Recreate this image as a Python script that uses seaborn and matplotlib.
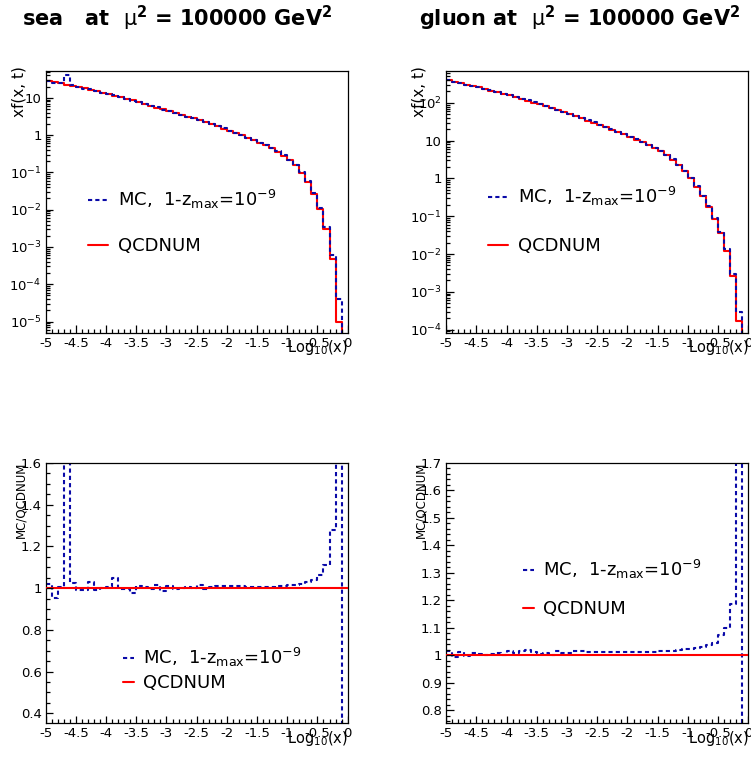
import numpy as np
import pandas as pd
import matplotlib
matplotlib.use("Agg")
import matplotlib.pyplot as plt
import matplotlib.ticker as mticker
from matplotlib.lines import Line2D
from matplotlib.collections import LineCollection
import seaborn as sns

# binning in log10(x): 50 bins between -5 and 0
n_bins = 50
x_lo, x_hi = -5.0, 0.0

# xf(x,t) from QCDNUM, per bin
sea_qcdnum = [28.2, 26.2, 24.3, 22.6, 21.0, 19.5, 17.9, 16.4, 15.0, 13.7,
              12.6, 11.4, 10.4, 9.4, 8.55, 7.76, 6.92, 6.17, 5.50, 4.90,
              4.37, 3.91, 3.50, 3.13, 2.81, 2.51, 2.21, 1.94, 1.71, 1.50,
              1.32, 1.14, 0.98, 0.85, 0.73, 0.63, 0.537, 0.447, 0.363, 0.282,
              0.214, 0.155, 0.098, 0.0556, 0.0269, 0.0107, 0.00309, 4.7e-4, 1.0e-5, 0.0]
gluon_qcdnum = [398, 365, 334, 306, 281, 257, 233, 212, 192, 175,
                158, 142, 127, 114, 102, 91.2, 80.9, 71.8, 63.7, 56.5,
                50.1, 44.1, 38.7, 34.0, 29.9, 26.3, 22.7, 19.6, 16.9, 14.6,
                12.6, 10.7, 9.12, 7.67, 6.38, 5.25, 4.17, 3.16, 2.29, 1.55,
                1.00, 0.603, 0.339, 0.178, 0.0851, 0.0359, 0.0123, 0.00257, 1.7e-4, 0.0]

# MC / QCDNUM ratio per bin
sea_ratio = [1.018, 0.952, 1.005, 1.80, 1.024, 0.99, 0.99, 1.027, 0.99, 1.0,
             1.005, 1.05, 0.997, 0.994, 0.978, 1.008, 1.005, 0.995, 1.013, 0.984,
             1.011, 0.997, 1.002, 1.005, 1.002, 1.014, 0.995, 1.005, 1.01, 1.008,
             1.008, 1.01, 1.008, 1.006, 1.007, 1.005, 1.005, 1.006, 1.008, 1.011,
             1.015, 1.016, 1.02, 1.027, 1.04, 1.065, 1.113, 1.28, 4.1, 0.0]
gluon_ratio = [1.015, 0.994, 1.01, 0.998, 1.008, 1.005, 1.002, 1.006, 1.008, 1.0,
               1.015, 1.008, 1.015, 1.019, 1.01, 1.006, 1.007, 1.002, 1.017, 1.007,
               1.008, 1.016, 1.014, 1.011, 1.012, 1.01, 1.011, 1.012, 1.01, 1.013,
               1.011, 1.012, 1.013, 1.012, 1.012, 1.014, 1.015, 1.017, 1.019, 1.022,
               1.022, 1.027, 1.03, 1.036, 1.044, 1.072, 1.10, 1.185, 1.76, 0.0]
ref_level = 1.0

titles = ["sea   at  $\\mathrm{\\mu}^{\\mathbf{2}}$ = 100000 GeV$^{\\mathbf{2}}$",
          "gluon at  $\\mathrm{\\mu}^{\\mathbf{2}}$ = 100000 GeV$^{\\mathbf{2}}$"]
mc_label = "MC,  1-z$_{\\rm max}$=10$^{-9}$"
qcd_label = "QCDNUM"

edges = np.linspace(x_lo, x_hi, n_bins + 1)
centers = 0.5 * (edges[:-1] + edges[1:])

sns.set_theme(style="white", rc={
    "axes.linewidth": 0.9, "axes.edgecolor": "black",
    "axes.unicode_minus": False,
    "text.color": "black", "axes.labelcolor": "black",
    "xtick.color": "black", "ytick.color": "black",
})
plt.rcParams["font.family"] = ["DejaVu Sans"]
plt.rcParams["mathtext.fontset"] = "dejavusans"

red = "#ff0000"
blue = "#0a0aa8"
dash = (0, (2, 1.5))

fig = plt.figure(figsize=(7.51, 7.57), dpi=100)
ax_tl = fig.add_axes([0.0609, 0.560, 0.402, 0.346])
ax_tr = fig.add_axes([0.594, 0.560, 0.4025, 0.346])
ax_bl = fig.add_axes([0.0609, 0.0445, 0.402, 0.344])
ax_br = fig.add_axes([0.594, 0.0445, 0.4025, 0.344])

handles = [Line2D([], [], color=blue, lw=1.5, ls=dash),
           Line2D([], [], color=red, lw=1.5)]


def log_label(v, pos):
    e = int(round(np.log10(v)))
    if e == 0:
        return "1"
    if e == 1:
        return "10"
    return "$\\mathregular{10^{%d}}$" % e


def inner_ticks(ax):
    # ROOT-like inward tick marks along the bottom and left axes,
    # placed at the axis locators' own positions
    x0, x1 = ax.get_xlim()
    y0, y1 = sorted(ax.get_ylim())
    for locs, size in ((ax.xaxis.get_majorticklocs(), 0.029),
                       (ax.xaxis.get_minorticklocs(), 0.015)):
        segs = [[(v, 0), (v, size)] for v in locs if x0 <= v <= x1]
        ax.add_collection(LineCollection(segs, transform=ax.get_xaxis_transform(),
                                         colors="black", linewidths=0.9, zorder=6))
    for locs, size in ((ax.yaxis.get_majorticklocs(), 0.025),
                       (ax.yaxis.get_minorticklocs(), 0.013)):
        segs = [[(0, v), (size, v)] for v in locs if y0 <= v <= y1]
        ax.add_collection(LineCollection(segs, transform=ax.get_yaxis_transform(),
                                         colors="black", linewidths=0.9, zorder=6))


def style_axes(ax):
    ax.set_xlim(x_lo, x_hi)
    ax.xaxis.set_major_locator(mticker.MultipleLocator(0.5))
    ax.xaxis.set_minor_locator(mticker.MultipleLocator(0.1))
    ax.xaxis.set_major_formatter(mticker.FuncFormatter(lambda v, p: "%g" % v))
    ax.set_xlabel("")
    ax.set_ylabel("")
    ax.tick_params(which="both", direction="in", length=0, pad=3,
                   labelsize=9.5, labelcolor="black",
                   left=True, bottom=True, top=False, right=False)
    for s in ax.spines.values():
        s.set_visible(True)
        s.set_color("black")
        s.set_linewidth(0.9)
    inner_ticks(ax)
    ax.text(1.0, -0.02, "Log$_{10}$(x)", transform=ax.transAxes,
            ha="right", va="top", fontsize=10.5)


def step_hist(ax, values, **kw):
    df = pd.DataFrame({"logx": centers, "val": values})
    sns.histplot(data=df, x="logx", weights="val", bins=n_bins, binrange=(x_lo, x_hi),
                 element="step", fill=False, linewidth=1.5, ax=ax, **kw)


def top_panel(ax, qcd, ratio, ylim, anchor, spacing):
    mc = [q * r for q, r in zip(qcd, ratio)]
    step_hist(ax, qcd, color=red)
    step_hist(ax, mc, color=blue, linestyle=dash)
    ax.set_yscale("log")
    ax.set_ylim(*ylim)
    ax.yaxis.set_major_locator(mticker.LogLocator(base=10, numticks=20))
    ax.yaxis.set_minor_locator(mticker.LogLocator(base=10, subs=np.arange(2, 10), numticks=20))
    ax.yaxis.set_major_formatter(mticker.FuncFormatter(log_label))
    ax.yaxis.set_minor_formatter(mticker.NullFormatter())
    style_axes(ax)
    ax.set_ylim(*ylim)
    ax.text(-0.09, 1.018, "xf(x, t)", transform=ax.transAxes, rotation=90,
            ha="center", va="top", fontsize=11)
    ax.legend(handles=handles, labels=[mc_label, qcd_label], loc="center left",
              bbox_to_anchor=anchor, frameon=False, fontsize=13,
              handlelength=1.1, handletextpad=0.55, labelspacing=spacing,
              borderpad=0, borderaxespad=0)


def ratio_panel(ax, ratio, ylim, major, minor, anchor, spacing):
    step_hist(ax, ratio, color=blue, linestyle=dash)
    ax.axhline(ref_level, color=red, lw=1.5, zorder=5)
    ax.set_ylim(*ylim)
    ax.yaxis.set_major_locator(mticker.MultipleLocator(major))
    ax.yaxis.set_minor_locator(mticker.MultipleLocator(minor))
    ax.yaxis.set_major_formatter(mticker.FuncFormatter(lambda v, p: "%g" % round(v, 3)))
    style_axes(ax)
    ax.set_ylim(*ylim)
    ax.text(-0.082, 1.004, "MC/QCDNUM", transform=ax.transAxes, rotation=90,
            ha="center", va="top", fontsize=8.5)
    ax.legend(handles=handles, labels=[mc_label, qcd_label], loc="center left",
              bbox_to_anchor=anchor, frameon=False, fontsize=13,
              handlelength=0.6, handletextpad=0.5, labelspacing=spacing,
              borderpad=0, borderaxespad=0)


top_panel(ax_tl, sea_qcdnum, sea_ratio, (4.9e-6, 52), (0.14, 0.425), 1.45)
top_panel(ax_tr, gluon_qcdnum, gluon_ratio, (8.1e-5, 690), (0.139, 0.432), 1.6)
ratio_panel(ax_bl, sea_ratio, (0.352, 1.6), 0.2, 0.05, (0.256, 0.208), 0.25)
ratio_panel(ax_br, gluon_ratio, (0.752, 1.7), 0.1, 0.02, (0.255, 0.518), 1.05)

fig.text(0.2364, 0.976, titles[0], ha="center", va="center", fontsize=15,
         fontweight="bold", color="black")
fig.text(0.772, 0.976, titles[1], ha="center", va="center", fontsize=15,
         fontweight="bold", color="black")

fig.savefig("out.png", dpi=100)
